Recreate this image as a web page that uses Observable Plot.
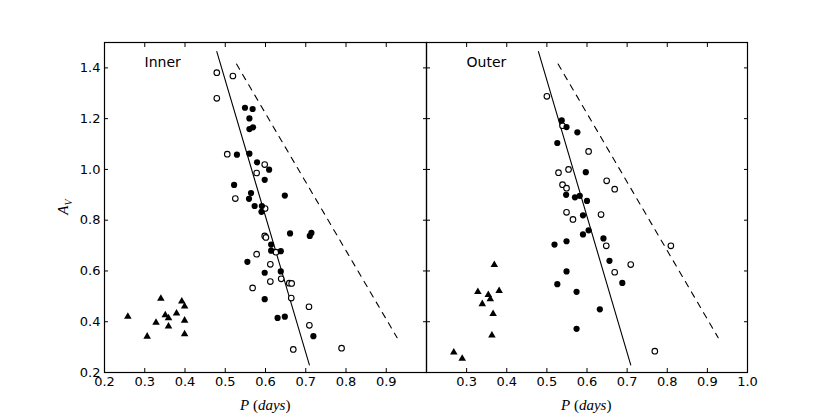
<!DOCTYPE html>
<html><head><meta charset="utf-8">
<script src="https://cdn.jsdelivr.net/npm/d3@7"></script>
<script src="https://cdn.jsdelivr.net/npm/@observablehq/plot@0.6"></script>
<style>
body{margin:0;background:#fff;}
#wrap{position:relative;width:830px;height:415px;font-family:"DejaVu Sans",sans-serif;}
#wrap svg{position:absolute;top:0;}
.lab{position:absolute;font-family:"Liberation Serif",serif;font-size:15px;color:#000;white-space:nowrap;line-height:1;}
</style></head><body><div id="wrap"></div>
<script>
// [P (days), A_V]
const innerFilled = [
  [0.549,1.243],[0.568,1.238],[0.560,1.201],[0.560,1.159],[0.569,1.166],[0.529,1.058],[0.560,1.062],
  [0.579,1.028],[0.609,0.999],[0.598,0.959],[0.522,0.939],[0.648,0.897],[0.564,0.907],[0.559,0.884],
  [0.573,0.856],[0.591,0.856],[0.590,0.833],[0.661,0.748],[0.714,0.750],[0.710,0.738],[0.614,0.704],
  [0.614,0.680],[0.638,0.678],[0.555,0.636],[0.598,0.593],[0.638,0.598],[0.598,0.489],[0.630,0.415],
  [0.648,0.420],[0.719,0.343]
];
const innerOpen = [
  [0.479,1.381],[0.519,1.368],[0.479,1.280],[0.505,1.060],[0.598,1.019],[0.578,0.986],[0.525,0.885],
  [0.599,0.846],[0.598,0.738],[0.601,0.732],[0.626,0.674],[0.578,0.666],[0.612,0.626],[0.639,0.569],
  [0.612,0.558],[0.659,0.552],[0.665,0.551],[0.568,0.533],[0.664,0.493],[0.708,0.459],[0.709,0.386],
  [0.669,0.291],[0.789,0.296]
];
const innerTri = [
  [0.258,0.420],[0.340,0.491],[0.306,0.342],[0.328,0.397],[0.351,0.426],[0.359,0.414],[0.359,0.382],
  [0.379,0.433],[0.392,0.480],[0.399,0.461],[0.399,0.405],[0.399,0.351]
];
const outerFilled = [
  [0.537,1.193],[0.549,1.167],[0.576,1.146],[0.526,1.104],[0.597,0.989],[0.548,0.900],[0.570,0.890],
  [0.582,0.896],[0.600,0.876],[0.590,0.819],[0.604,0.760],[0.590,0.744],[0.641,0.728],[0.519,0.704],
  [0.549,0.717],[0.656,0.640],[0.549,0.598],[0.688,0.553],[0.526,0.548],[0.574,0.518],[0.632,0.449],
  [0.574,0.372]
];
const outerOpen = [
  [0.500,1.288],[0.539,1.172],[0.604,1.071],[0.554,1.000],[0.529,0.987],[0.649,0.955],[0.669,0.922],
  [0.539,0.940],[0.549,0.926],[0.549,0.831],[0.635,0.822],[0.565,0.803],[0.648,0.699],[0.809,0.699],
  [0.709,0.625],[0.669,0.595],[0.769,0.284]
];
const outerTri = [
  [0.369,0.624],[0.328,0.518],[0.354,0.506],[0.359,0.489],[0.381,0.522],[0.339,0.470],[0.366,0.431],
  [0.363,0.346],[0.268,0.279],[0.289,0.255]
];
const solidLine = [[0.479,1.464],[0.709,0.230]];
const dashedLine = [[0.528,1.415],[0.927,0.337]];
const xTicks = [0.2,0.3,0.4,0.5,0.6,0.7,0.8,0.9,1.0];
const yTicks = [0.2,0.4,0.6,0.8,1.0,1.2,1.4];
const innerXLabels = [0.2,0.3,0.4,0.5,0.6,0.7,0.8,0.9];
const outerXLabels = [0.3,0.4,0.5,0.6,0.7,0.8,0.9,1.0];
const panelNames = ["Inner","Outer"];

const fmt = d3.format(".1f");
const X = d => d[0], Y = d => d[1];

function panel({name, filled, open, tri, labels, showY, left, width, marginLeft, marginRight}) {
  const marks = [
    Plot.line(solidLine, {x: X, y: Y, stroke: "black", strokeWidth: 1.1}),
    Plot.line(dashedLine, {x: X, y: Y, stroke: "black", strokeWidth: 1.1, strokeDasharray: "6,6"}),
    Plot.dot(open, {x: X, y: Y, r: 2.8, stroke: "black", fill: "white", strokeWidth: 1.1}),
    Plot.dot(filled, {x: X, y: Y, r: 3.1, fill: "black", stroke: "none"}),
    Plot.dot(tri, {x: X, y: Y, r: 2.8, symbol: "triangle", fill: "black", stroke: "none"}),
    Plot.text([name], {text: d => d, frameAnchor: "top-left", dx: 40, dy: 20, fontSize: 14, textAnchor: "start", lineAnchor: "middle", fill: "black"}),
    Plot.axisX(xTicks, {anchor: "bottom", tickSize: -4, tickFormat: () => "", label: null}),
    Plot.axisX(xTicks, {anchor: "top", tickSize: -4, tickFormat: () => "", label: null}),
    Plot.axisY(yTicks, {anchor: "left", tickSize: -4, tickFormat: () => "", label: null}),
    Plot.axisY(yTicks, {anchor: "right", tickSize: -4, tickFormat: () => "", label: null}),
    Plot.axisX(labels, {anchor: "bottom", tickSize: 0, tickPadding: 4, tickFormat: fmt, label: null, fontSize: 13}),
    Plot.frame({stroke: "black", strokeWidth: 1.2})
  ];
  if (showY) marks.push(Plot.axisY(yTicks, {anchor: "left", tickSize: 0, tickPadding: 4, tickFormat: fmt, label: null, fontSize: 13}));
  const svg = Plot.plot({
    width, height: 415,
    marginLeft, marginRight, marginTop: 42, marginBottom: 43,
    x: {domain: [0.2, 1.0]},
    y: {domain: [0.2, 1.5]},
    style: {background: "transparent", fontFamily: "DejaVu Sans", color: "black"},
    marks
  });
  svg.style.left = left + "px";
  return svg;
}

const wrap = document.getElementById("wrap");
wrap.appendChild(panel({name: panelNames[0], filled: innerFilled, open: innerOpen, tri: innerTri, labels: innerXLabels, showY: true, left: 0, width: 430, marginLeft: 104, marginRight: 4}));
wrap.appendChild(panel({name: panelNames[1], filled: outerFilled, open: outerOpen, tri: outerTri, labels: outerXLabels, showY: false, left: 422, width: 408, marginLeft: 4, marginRight: 83}));

function addLabel(html, cx, cy, rotate) {
  const el = document.createElement("div");
  el.className = "lab";
  el.innerHTML = html;
  wrap.appendChild(el);
  const w = el.offsetWidth, h = el.offsetHeight;
  el.style.left = (cx - w / 2) + "px";
  el.style.top = (cy - h / 2) + "px";
  if (rotate) el.style.transform = "rotate(-90deg)";
}
addLabel('<i>P</i> (<i>days</i>)', 265, 405);
addLabel('<i>P</i> (<i>days</i>)', 586, 405);
addLabel('<i>A</i><sub style="font-size:10px"><i>V</i></sub>', 64, 207, true);
</script></body></html>
